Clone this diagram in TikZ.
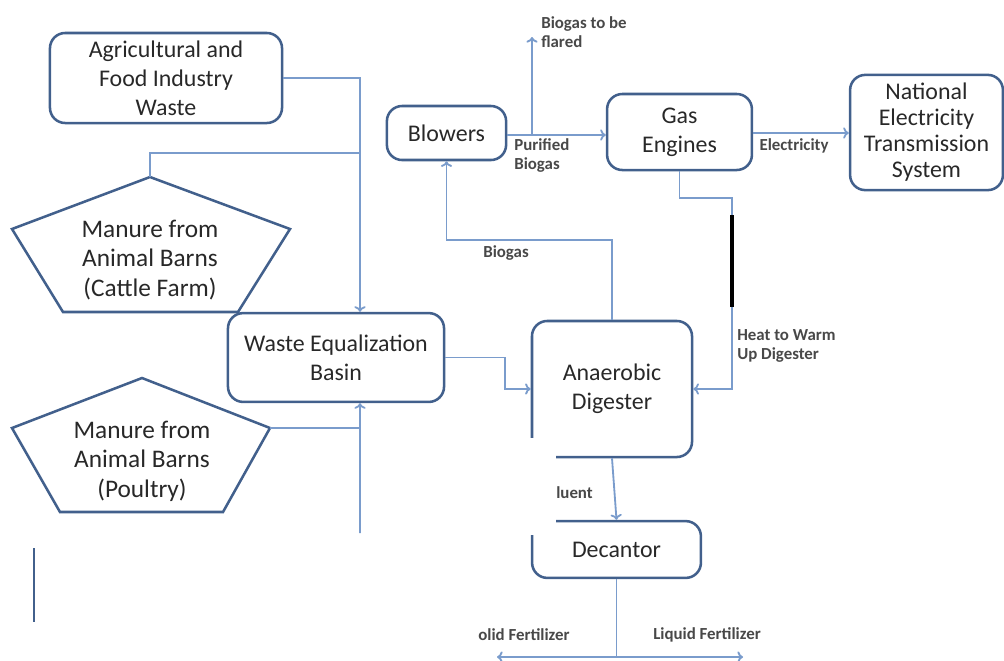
\documentclass[tikz,border=0pt]{standalone}
\usepackage{fontspec}
\setmainfont{Carlito}
\usetikzlibrary{arrows,arrows.meta,positioning}
\definecolor{boxblue}{RGB}{66,96,140}
\definecolor{linkblue}{RGB}{122,156,204}
\definecolor{inkgray}{RGB}{40,40,40}

\begin{document}
\begin{tikzpicture}[x=0.025cm, y=-0.025cm,
    block/.style={rectangle, draw=boxblue, line width=1.8pt, rounded corners=0.38cm, align=center, text=inkgray, font=\fontsize{17}{20.5}\selectfont, inner sep=2pt},
    pentagon/.style={draw=boxblue, line width=1.8pt, line join=miter},
    pentext/.style={align=center, text=inkgray, font=\fontsize{18}{21}\selectfont},
    lbl/.style={font=\fontsize{12}{13.5}\selectfont\bfseries, text=inkgray!85, align=left, inner sep=0pt},
    link/.style={draw=linkblue, line width=1.3pt},
    arrow/.style={link, ->, >={To[length=4pt,width=8pt]}}
]
    \useasboundingbox (0,0) rectangle (1004,660);

    % boxes
    \node[block, minimum width=5.8cm, minimum height=2.25cm] (agri) at (166,78) {Agricultural and\\Food Industry\\Waste};
    \node[block, minimum width=5.4cm, minimum height=2.22cm] (basin) at (336,357.5) {Waste Equalization\\Basin};
    \node[block, minimum width=4cm, minimum height=3.4cm] (digester) at (612,389) {Anaerobic\\Digester};
    \node[block, minimum width=4.22cm, minimum height=1.42cm] (decantor) at (616.5,549.5) {Decantor};
    \node[block, minimum width=2.98cm, minimum height=1.35cm] (blowers) at (446.5,133) {Blowers};
    \node[block, minimum width=3.62cm, minimum height=1.9cm] (engines) at (679.5,132) {Gas\\Engines};
    \node[block, minimum width=3.82cm, minimum height=2.88cm, font=\fontsize{17}{18.5}\selectfont] (grid) at (926.5,132.5) {National\\Electricity\\Transmission\\System};

    % pentagons
    \draw[pentagon] (150,177) -- (290,229) -- (238,312) -- (63,312) -- (12,229) -- cycle;
    \node[pentext] (cattle) at (150,260) {Manure from\\Animal Barns\\(Cattle Farm)};
    \coordinate (cattletop) at (150,177);
    \draw[pentagon] (142,378) -- (270,428) -- (223,512) -- (60,512) -- (12,428) -- cycle;
    \node[pentext] (poultry) at (142,461) {Manure from\\Animal Barns\\(Poultry)};
    \coordinate (poultryright) at (270,428);

    % feeds into the basin
    \coordinate (joinA) at (360,153);
    \coordinate (joinB) at (360,428);
    \coordinate (feedend) at (360,533);
    \draw[arrow] (agri.east) -| ([xshift=0.6cm]basin.north);
    \draw[link] (cattletop) |- (joinA);
    \draw[link] (poultryright) -- (joinB);
    \draw[arrow] (feedend) -- ([xshift=0.6cm]basin.south);

    % main flow
    \draw[arrow] (basin.east) -- ++(1.5cm,0) |- (digester.west);
    \draw[arrow] (digester.north) -- ++(0,2cm) -| (blowers.south);
    \draw[arrow] (blowers.east |- 0,135) -- (engines.west |- 0,135);
    \coordinate (flare) at (532,37);
    \draw[arrow] (flare |- 0,135) -- (flare);
    \draw[arrow] (engines.east |- 0,133) -- (grid.west |- 0,133);
    \coordinate (heatturn) at (732,198);
    \draw[arrow] (engines.south) |- (heatturn) |- (digester.east);
    \draw[arrow] (digester.south) -- (decantor.north);

    % fertilizer split
    \coordinate (solid) at (497,657);
    \coordinate (liquid) at (743,657);
    \draw[link] (decantor.south) -- (decantor.south |- solid);
    \draw[arrow] (decantor.south |- solid) -- (solid);
    \draw[arrow] (decantor.south |- solid) -- (liquid);

    % marks over the picture
    \fill[white] (505,438) rectangle (556,535);
    \draw[black, line width=3.5pt] (732,215) -- (732,307);
    \draw[boxblue, line width=2pt] (34,548) -- (34,622);

    % labels
    \node[lbl, anchor=north west] (flarelbl) at (541,16) {Biogas to be\\flared};
    \node[lbl, anchor=north west] (purelbl) at (514,138) {Purified\\Biogas};
    \node[lbl] (eleclbl) at (794,146) {Electricity};
    \node[lbl] (biogaslbl) at (506,253) {Biogas};
    \node[lbl, anchor=north west] (heatlbl) at (737,329) {Heat to Warm\\Up Digester};
    \node[lbl, anchor=west] (effllbl) at (556,493) {luent};
    \node[lbl, anchor=west] (solidlbl) at (478,635) {olid Fertilizer};
    \node[lbl, anchor=west] (liquidlbl) at (653,635) {Liquid Fertilizer};
\end{tikzpicture}
\end{document}
